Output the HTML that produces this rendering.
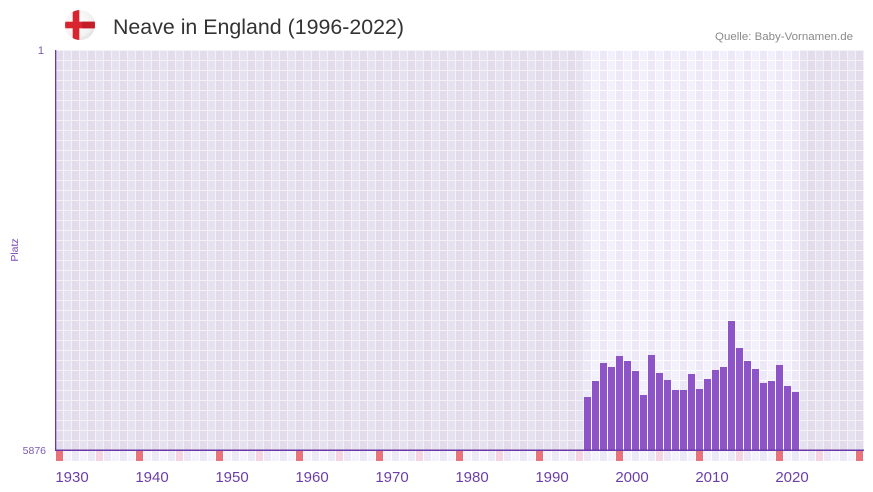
<!DOCTYPE html>
<html><head><meta charset="utf-8"><style>
html,body{margin:0;padding:0;background:#fff;}
svg{display:block;}
text{font-family:"Liberation Sans",sans-serif;}
</style></head><body>
<svg width="873" height="492" viewBox="0 0 873 492" xmlns="http://www.w3.org/2000/svg">
<defs>
<pattern id="dk" x="56" y="50" width="16" height="10" patternUnits="userSpaceOnUse">
<rect x="0" y="0" width="16" height="10" fill="#f3f1f6"/>
<rect x="0" y="1" width="7" height="9" fill="#e1dbec"/>
<rect x="8" y="1" width="7" height="9" fill="#e6e1ef"/>
</pattern>
<pattern id="lt" x="56" y="50" width="16" height="10" patternUnits="userSpaceOnUse">
<rect x="0" y="0" width="16" height="10" fill="#fdfcff"/>
<rect x="0" y="1" width="7" height="9" fill="#ece8f7"/>
<rect x="8" y="1" width="7" height="9" fill="#f2f0fb"/>
</pattern>
<pattern id="mk" x="56" y="451" width="16" height="10" patternUnits="userSpaceOnUse">
<rect x="0" y="0" width="7" height="10" fill="#ece8f7"/>
<rect x="8" y="0" width="7" height="10" fill="#f4f2fb"/>
</pattern>
<radialGradient id="fg" cx="0.4" cy="0.4" r="0.7">
<stop offset="0" stop-color="#ffffff"/><stop offset="0.7" stop-color="#f2f2f2"/><stop offset="1" stop-color="#d8d8d8"/>
</radialGradient>
<clipPath id="cc"><circle cx="80" cy="25" r="15"/></clipPath>
</defs>

<!-- flag -->
<circle cx="80" cy="25" r="15" fill="url(#fg)"/>
<g clip-path="url(#cc)">
<rect x="65" y="21.7" width="30" height="6.6" fill="#d9252e"/>
<rect x="82" y="21.7" width="13" height="6.6" fill="#c41e28"/>
<rect x="72.7" y="10" width="6.6" height="30" fill="#d9252e"/>
</g>

<text x="113" y="34" font-size="21" fill="#333" textLength="291" lengthAdjust="spacingAndGlyphs">Neave in England (1996-2022)</text>
<text x="853" y="40" font-size="11" fill="#8a8a8a" text-anchor="end" textLength="138" lengthAdjust="spacingAndGlyphs">Quelle: Baby-Vornamen.de</text>

<!-- plot backgrounds -->
<rect x="56" y="50" width="528" height="400" fill="url(#dk)"/>
<rect x="584" y="50" width="216" height="400" fill="url(#lt)"/>
<rect x="800" y="50" width="64" height="400" fill="url(#dk)"/>

<!-- bars -->
<g fill="#8c54c7">
<rect x="584" y="397" width="7" height="53"/>
<rect x="592" y="381" width="7" height="69"/>
<rect x="600" y="363" width="7" height="87"/>
<rect x="608" y="367" width="7" height="83"/>
<rect x="616" y="356" width="7" height="94"/>
<rect x="624" y="361" width="7" height="89"/>
<rect x="632" y="371" width="7" height="79"/>
<rect x="640" y="395" width="7" height="55"/>
<rect x="648" y="355" width="7" height="95"/>
<rect x="656" y="373" width="7" height="77"/>
<rect x="664" y="380" width="7" height="70"/>
<rect x="672" y="390" width="7" height="60"/>
<rect x="680" y="390" width="7" height="60"/>
<rect x="688" y="374" width="7" height="76"/>
<rect x="696" y="389" width="7" height="61"/>
<rect x="704" y="379" width="7" height="71"/>
<rect x="712" y="370" width="7" height="80"/>
<rect x="720" y="367" width="7" height="83"/>
<rect x="728" y="321" width="7" height="129"/>
<rect x="736" y="348" width="7" height="102"/>
<rect x="744" y="361" width="7" height="89"/>
<rect x="752" y="369" width="7" height="81"/>
<rect x="760" y="383" width="7" height="67"/>
<rect x="768" y="381" width="7" height="69"/>
<rect x="776" y="365" width="7" height="85"/>
<rect x="784" y="386" width="7" height="64"/>
<rect x="792" y="392" width="7" height="58"/>
</g>

<!-- marker row -->
<rect x="56" y="451" width="808" height="10" fill="url(#mk)"/>
<g fill="#e8737b">
<rect x="56" y="451" width="7" height="10"/>
<rect x="136" y="451" width="7" height="10"/>
<rect x="216" y="451" width="7" height="10"/>
<rect x="296" y="451" width="7" height="10"/>
<rect x="376" y="451" width="7" height="10"/>
<rect x="456" y="451" width="7" height="10"/>
<rect x="536" y="451" width="7" height="10"/>
<rect x="616" y="451" width="7" height="10"/>
<rect x="696" y="451" width="7" height="10"/>
<rect x="776" y="451" width="7" height="10"/>
<rect x="856" y="451" width="7" height="10"/>
</g>
<g fill="#f5d6e0">
<rect x="96" y="451" width="7" height="10"/>
<rect x="176" y="451" width="7" height="10"/>
<rect x="256" y="451" width="7" height="10"/>
<rect x="336" y="451" width="7" height="10"/>
<rect x="416" y="451" width="7" height="10"/>
<rect x="496" y="451" width="7" height="10"/>
<rect x="576" y="451" width="7" height="10"/>
<rect x="656" y="451" width="7" height="10"/>
<rect x="736" y="451" width="7" height="10"/>
<rect x="816" y="451" width="7" height="10"/>
</g>

<!-- axes -->
<rect x="55" y="50" width="1.3" height="401" fill="#6a3aa8"/>
<rect x="55" y="449.5" width="809" height="1.5" fill="#6a3aa8"/>

<!-- y labels -->
<text x="44" y="54" font-size="11" fill="#7a58b0" text-anchor="end">1</text>
<text x="46" y="454" font-size="10.5" fill="#7a58b0" text-anchor="end">5876</text>
<text transform="translate(18,250) rotate(-90)" font-size="10.5" fill="#7a48b8" text-anchor="middle">Platz</text>

<!-- x labels -->
<g font-size="15" fill="#6b3fa8" text-anchor="middle">
<text x="72" y="482">1930</text>
<text x="152" y="482">1940</text>
<text x="232" y="482">1950</text>
<text x="312" y="482">1960</text>
<text x="392" y="482">1970</text>
<text x="472" y="482">1980</text>
<text x="552" y="482">1990</text>
<text x="632" y="482">2000</text>
<text x="712" y="482">2010</text>
<text x="792" y="482">2020</text>
</g>
</svg>
</body></html>
